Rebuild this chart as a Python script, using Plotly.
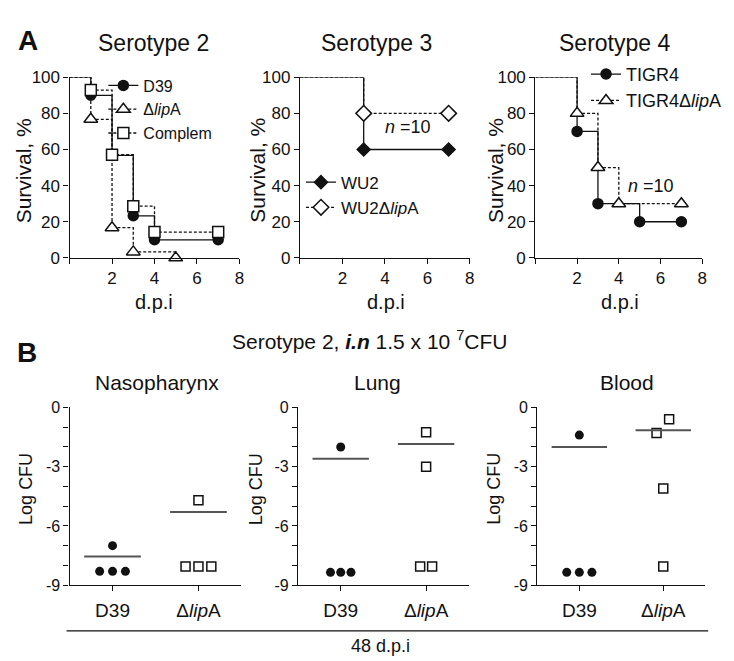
import plotly.graph_objects as go

# ---------------- Panel A: survival data (days post infection, % survival) ----------------
s2_days_D39 = [0, 1, 2, 3, 4, 7]
s2_surv_D39 = [100, 90.0, 56.7, 23.3, 10.0, 10.0]
s2_days_lipA = [0, 1, 2, 3, 5]
s2_surv_lipA = [100, 76.7, 16.7, 3.3, 0.0]
s2_days_comp = [0, 1, 2, 3, 4, 7]
s2_surv_comp = [100, 92.9, 57.1, 28.6, 14.3, 14.3]

s3_days_WU2 = [0, 3, 7]
s3_surv_WU2 = [100, 60, 60]
s3_days_lipA = [0, 3, 7]
s3_surv_lipA = [100, 80, 80]

s4_days_TIGR4 = [0, 2, 3, 5, 7]
s4_surv_TIGR4 = [100, 70, 30, 20, 20]
s4_days_lipA = [0, 2, 3, 4, 7]
s4_surv_lipA = [100, 80, 50, 30, 30]

# ---------------- Panel B: log CFU data ----------------
group_labels = ["D39", "Δ<i>lip</i>A"]
naso_D39 = [-7.0, -8.3, -8.3, -8.3]
naso_lipA = [-4.7, -8.05, -8.05, -8.05]
lung_D39 = [-2.0, -8.35, -8.35, -8.35]
lung_lipA = [-1.25, -3.0, -8.05, -8.05]
blood_D39 = [-1.4, -8.35, -8.35, -8.35]
blood_lipA = [-0.6, -1.3, -4.1, -8.05]
line_naso = [-7.55, -5.3]
line_lung = [-2.6, -1.85]
line_blood = [-2.0, -1.15]

# horizontal jitter of the dots within each group
jit_naso_D39 = [0, -0.15, 0, 0.15]
jit_naso_lipA = [0, -0.15, 0, 0.15]
jit_lung_D39 = [0, -0.12, 0, 0.12]
jit_lung_lipA = [0, 0, -0.07, 0.07]
jit_blood_D39 = [0, -0.15, 0, 0.15]
jit_blood_lipA = [0.07, -0.08, 0, 0]

FONT = "Liberation Sans, Arial, sans-serif"
INK = "#111111"

fig = go.Figure()


def add_km(days, surv, name, symbol, filled, dash, xa, ya, legend, msize=10):
    # initial 100% segment up to the first event
    fig.add_trace(go.Scatter(
        x=days[:2], y=surv[:2], mode="lines", line_shape="hv",
        line=dict(color=INK, width=1.3, dash=dash), showlegend=False,
        xaxis=xa, yaxis=ya, cliponaxis=False, hoverinfo="skip"))
    fig.add_trace(go.Scatter(
        x=days[1:], y=surv[1:], mode="lines+markers", line_shape="hv", name=name,
        line=dict(color=INK, width=1.3, dash=dash),
        marker=dict(symbol=symbol, size=msize, color=INK if filled else "white",
                    line=dict(color=INK, width=1.5)),
        xaxis=xa, yaxis=ya, legend=legend, cliponaxis=False))


DASH = "3px,2px"
add_km(s2_days_D39, s2_surv_D39, "D39", "circle", True, "solid", "x", "y", "legend", 10)
add_km(s2_days_lipA, s2_surv_lipA, "Δ<i>lip</i>A", "triangle-up", False, DASH, "x", "y", "legend", 12)
add_km(s2_days_comp, s2_surv_comp, "Complem", "square", False, DASH, "x", "y", "legend", 11)

add_km(s3_days_WU2, s3_surv_WU2, "WU2", "diamond", True, "solid", "x2", "y2", "legend2", 10)
add_km(s3_days_lipA, s3_surv_lipA, "WU2Δ<i>lip</i>A", "diamond", False, DASH, "x2", "y2", "legend2", 12)

add_km(s4_days_TIGR4, s4_surv_TIGR4, "TIGR4", "circle", True, "solid", "x3", "y3", "legend3", 10)
add_km(s4_days_lipA, s4_surv_lipA, "TIGR4Δ<i>lip</i>A", "triangle-up", False, DASH, "x3", "y3", "legend3", 12)


def add_dots(vals_D39, jit_D39, vals_lipA, jit_lipA, lines, xa, ya):
    fig.add_trace(go.Scatter(
        x=[1 + j for j in jit_D39], y=vals_D39, mode="markers",
        marker=dict(symbol="circle", size=9, color=INK),
        showlegend=False, xaxis=xa, yaxis=ya, cliponaxis=False))
    fig.add_trace(go.Scatter(
        x=[2 + j for j in jit_lipA], y=vals_lipA, mode="markers",
        marker=dict(symbol="square-open", size=9, color=INK, line=dict(width=1.5)),
        showlegend=False, xaxis=xa, yaxis=ya, cliponaxis=False))
    for i, v in enumerate(lines):
        c = i + 1
        fig.add_trace(go.Scatter(
            x=[c - 0.33, c + 0.33], y=[v, v], mode="lines",
            line=dict(color="#555555", width=2), showlegend=False,
            xaxis=xa, yaxis=ya, hoverinfo="skip"))


add_dots(naso_D39, jit_naso_D39, naso_lipA, jit_naso_lipA, line_naso, "x4", "y4")
add_dots(lung_D39, jit_lung_D39, lung_lipA, jit_lung_lipA, line_lung, "x5", "y5")
add_dots(blood_D39, jit_blood_D39, blood_lipA, jit_blood_lipA, line_blood, "x6", "y6")

W, H = 734, 661


def px(xp):
    return xp / W


def py(yp):
    return 1 - yp / H


axis_common = dict(showline=True, linecolor=INK, linewidth=1.3, ticks="outside",
                   ticklen=5, tickwidth=1.2, tickcolor=INK, showgrid=False,
                   zeroline=False, tickfont=dict(family=FONT, size=17, color=INK))

A_y = [py(248), py(62)]
A_x = {"xaxis": [62, 233], "xaxis2": [294, 465], "xaxis3": [531, 699]}
A_y_names = {"xaxis": "yaxis", "xaxis2": "yaxis2", "xaxis3": "yaxis3"}
anchors = {"xaxis": ("x", "y"), "xaxis2": ("x2", "y2"), "xaxis3": ("x3", "y3"),
           "xaxis4": ("x4", "y4"), "xaxis5": ("x5", "y5"), "xaxis6": ("x6", "y6")}

layout = {}
for xn, (l, r) in A_x.items():
    xs, ys = anchors[xn]
    layout[xn] = dict(axis_common, domain=[px(l), px(r)], range=[0, 8],
                      tickvals=[2, 4, 6, 8], anchor=ys,
                      minor=dict(tickvals=[0], ticks="outside", ticklen=5,
                                 tickcolor=INK, tickwidth=1.2))
    layout[A_y_names[xn]] = dict(axis_common, domain=A_y, range=[0, 100],
                                 tickvals=[0, 20, 40, 60, 80, 100], anchor=xs)

B_y = [py(585), py(402)]
B_x = {"xaxis4": [62, 235], "xaxis5": [292, 464], "xaxis6": [533, 702]}
B_y_names = {"xaxis4": "yaxis4", "xaxis5": "yaxis5", "xaxis6": "yaxis6"}
for xn, (l, r) in B_x.items():
    xs, ys = anchors[xn]
    layout[xn] = dict(axis_common, domain=[px(l), px(r)], range=[0.5, 2.5],
                      tickvals=[1, 2], ticktext=group_labels, anchor=ys,
                      ticklabelstandoff=3,
                      tickfont=dict(family=FONT, size=19, color=INK))
    layout[B_y_names[xn]] = dict(axis_common, domain=B_y, range=[-9, 0],
                                 tickvals=[0, -3, -6, -9], ticktext=["0", "-3", "-6", "-9"],
                                 anchor=xs, tickfont=dict(family=FONT, size=16, color=INK),
                                 minor=dict(tickvals=[-1, -2, -4, -5, -7, -8], ticks="outside",
                                            ticklen=5, tickcolor=INK, tickwidth=1.2))

legend_common = dict(bgcolor="rgba(0,0,0,0)", borderwidth=0, xanchor="left", yanchor="top",
                     tracegroupgap=0, itemwidth=30)
layout["legend"] = dict(legend_common, x=px(96), y=py(53),
                        font=dict(family=FONT, size=16, color=INK))
layout["legend2"] = dict(legend_common, x=px(295), y=py(152),
                         font=dict(family=FONT, size=17, color=INK))
layout["legend3"] = dict(legend_common, x=px(582), y=py(40),
                         font=dict(family=FONT, size=18, color=INK))

annotations = []


def ann(text, x, y, size, bold=False, angle=0):
    annotations.append(dict(text=f"<b>{text}</b>" if bold else text, x=px(x), y=py(y),
                            xref="paper", yref="paper", showarrow=False,
                            xanchor="center", yanchor="middle", textangle=angle,
                            font=dict(family=FONT, size=size, color=INK)))


ann("A", 20, 24, 28, bold=True)
ann("B", 19, 345, 28, bold=True)
ann("Serotype 2", 147, 27, 23)
ann("Serotype 3", 371, 27, 23)
ann("Serotype 4", 611, 27, 23)
for x in (147, 381, 616):
    ann("d.p.i", x, 293, 20)
for x in (16, 251, 491):
    ann("Survival, %", x, 158, 21, angle=-90)
ann("<i>n</i> =10", 403, 113, 18)
ann("<i>n</i> =10", 647, 174, 18)
ann("Serotype 2, <b><i>i.n</i></b> 1.5 x 10 <sup>7</sup>CFU", 364, 333, 21)
ann("Nasopharynx", 150, 376, 21)
ann("Lung", 372, 376, 21)
ann("Blood", 623, 376, 21)
for x in (18, 250, 489):
    ann("Log CFU", x, 486, 18, angle=-90)
ann("48 d.p.i", 375, 648, 18)

shapes = [dict(type="line", xref="paper", yref="paper", x0=px(59), x1=px(705),
               y0=py(632), y1=py(632), line=dict(color=INK, width=1.3))]

fig.update_layout(width=W, height=H, margin=dict(l=0, r=0, t=0, b=0),
                  plot_bgcolor="white", paper_bgcolor="white",
                  annotations=annotations, shapes=shapes,
                  font=dict(family=FONT, color=INK), **layout)

fig.write_html("out.html")
